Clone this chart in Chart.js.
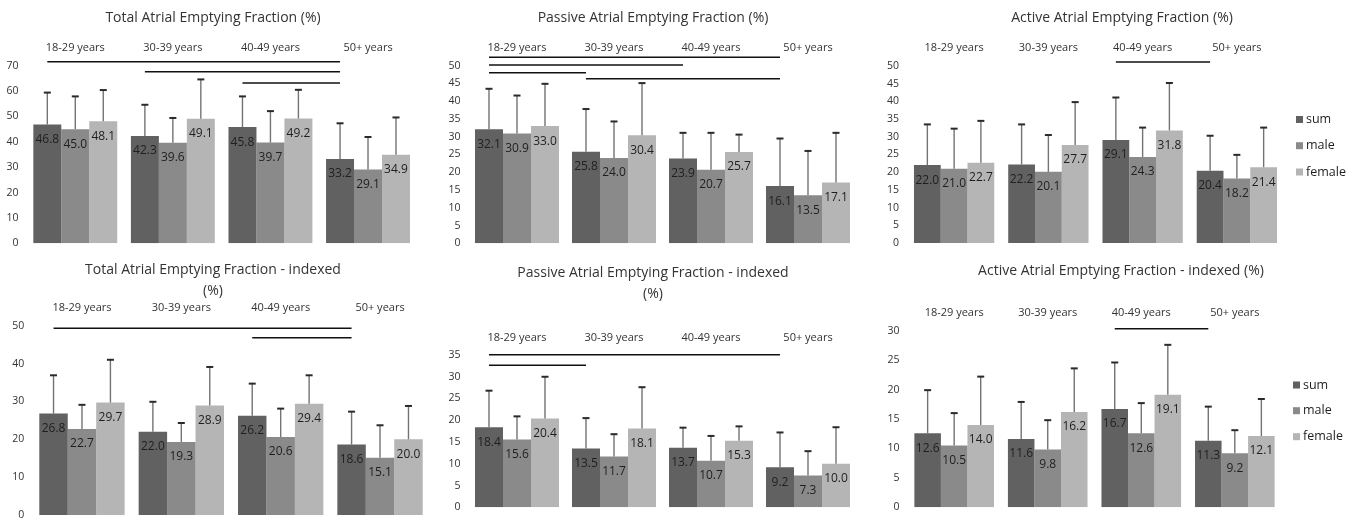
<!DOCTYPE html>
<html>
<head>
<meta charset="utf-8">
<title>Atrial Emptying Fraction by age group</title>
<script src="https://cdn.jsdelivr.net/npm/chart.js@4.4.1/dist/chart.umd.min.js"></script>
<style>
    html, body { margin: 0; padding: 0; background: #ffffff; overflow: hidden; }
    #wrap { position: relative; width: 1357px; height: 519px; overflow: hidden; }
    #wrap canvas { position: absolute; }
</style>
</head>
<body>
<div id="wrap"></div>
<script>
// Kategori dan seri
const ageGroups = ["18-29 years", "30-39 years", "40-49 years", "50+ years"];
const seriesNames = ["sum", "male", "female"];

// Total Atrial Emptying Fraction (%) - mean dan SD
const totalSum = [46.8, 42.3, 45.8, 33.2];
const totalMale = [45.0, 39.6, 39.7, 29.1];
const totalFemale = [48.1, 49.1, 49.2, 34.9];
const totalSumSd = [12.6, 12.3, 12.1, 14.1];
const totalMaleSd = [12.9, 9.8, 12.4, 12.8];
const totalFemaleSd = [12.3, 15.5, 11.3, 14.7];

// Passive Atrial Emptying Fraction (%)
const passiveSum = [32.1, 25.8, 23.9, 16.1];
const passiveMale = [30.9, 24.0, 20.7, 13.5];
const passiveFemale = [33.0, 30.4, 25.7, 17.1];
const passiveSumSd = [11.4, 12.0, 7.2, 13.4];
const passiveMaleSd = [10.7, 10.3, 10.4, 12.5];
const passiveFemaleSd = [11.9, 14.7, 4.9, 14.0];

// Active Atrial Emptying Fraction (%)
const activeSum = [22.0, 22.2, 29.1, 20.4];
const activeMale = [21.0, 20.1, 24.3, 18.2];
const activeFemale = [22.7, 27.7, 31.8, 21.4];
const activeSumSd = [11.5, 11.3, 12.0, 9.9];
const activeMaleSd = [11.3, 10.4, 8.3, 6.7];
const activeFemaleSd = [11.8, 12.1, 13.4, 11.2];

// Total Atrial Emptying Fraction - indexed (%)
const totalIdxSum = [26.8, 22.0, 26.2, 18.6];
const totalIdxMale = [22.7, 19.3, 20.6, 15.1];
const totalIdxFemale = [29.7, 28.9, 29.4, 20.0];
const totalIdxSumSd = [10.1, 7.9, 8.5, 8.7];
const totalIdxMaleSd = [6.4, 5.0, 7.5, 8.6];
const totalIdxFemaleSd = [11.3, 10.2, 7.5, 8.8];

// Passive Atrial Emptying Fraction - indexed (%)
const passiveIdxSum = [18.4, 13.5, 13.7, 9.2];
const passiveIdxMale = [15.6, 11.7, 10.7, 7.3];
const passiveIdxFemale = [20.4, 18.1, 15.3, 10.0];
const passiveIdxSumSd = [8.4, 7.0, 4.6, 8.0];
const passiveIdxMaleSd = [5.3, 5.1, 5.7, 5.6];
const passiveIdxFemaleSd = [9.6, 9.5, 3.3, 8.4];

// Active Atrial Emptying Fraction - indexed (%)
const activeIdxSum = [12.6, 11.6, 16.7, 11.3];
const activeIdxMale = [10.5, 9.8, 12.6, 9.2];
const activeIdxFemale = [14.0, 16.2, 19.1, 12.1];
const activeIdxSumSd = [7.3, 6.3, 7.9, 5.8];
const activeIdxMaleSd = [5.5, 5.0, 5.1, 3.9];
const activeIdxFemaleSd = [8.2, 7.4, 8.5, 6.3];

// Pasangan kelompok umur yang berbeda signifikan (index kategori)
const totalSig = [[0, 3], [1, 3], [2, 3]];
const passiveSig = [[0, 3], [0, 2], [0, 1], [1, 3]];
const activeSig = [[2, 3]];
const totalIdxSig = [[0, 3], [2, 3]];
const passiveIdxSig = [[0, 3], [0, 1]];
const activeIdxSig = [[2, 3]];

// Tick sumbu y
const totalTicks = { max: 70, step: 10 };
const passiveTicks = { max: 50, step: 5 };
const activeTicks = { max: 50, step: 5 };
const totalIdxTicks = { max: 50, step: 10 };
const passiveIdxTicks = { max: 35, step: 5 };
const activeIdxTicks = { max: 30, step: 5 };

const seriesColors = ["#616161", "#8a8a8a", "#b5b5b5"];
const textColor = "#333333";

Chart.defaults.font.family = "'Open Sans', sans-serif";
Chart.defaults.color = textColor;

// Layout tiap panel (koordinat halaman)
const panels = [
    {
        title: "Total Atrial Emptying Fraction (%)",
        values: [totalSum, totalMale, totalFemale], sds: [totalSumSd, totalMaleSd, totalFemaleSd],
        sig: totalSig, ticks: totalTicks,
        left: 0, top: 0, titleX: 213, titleY: 18, labelY: 48,
        plotL: 26.5, plotR: 416.8, plotT: 65.7, plotB: 243.3, catPct: 0.86,
        sigY: [61.7, 71.7, 83]
    },
    {
        title: "Passive Atrial Emptying Fraction (%)",
        values: [passiveSum, passiveMale, passiveFemale], sds: [passiveSumSd, passiveMaleSd, passiveFemaleSd],
        sig: passiveSig, ticks: passiveTicks,
        left: 440, top: 0, titleX: 653, titleY: 18, labelY: 48,
        plotL: 468.5, plotR: 856.5, plotT: 65.7, plotB: 243.3, catPct: 0.866,
        sigY: [57.3, 65, 72.7, 78.7]
    },
    {
        title: "Active Atrial Emptying Fraction (%)",
        values: [activeSum, activeMale, activeFemale], sds: [activeSumSd, activeMaleSd, activeFemaleSd],
        sig: activeSig, ticks: activeTicks,
        left: 870, top: 0, titleX: 1122, titleY: 18, labelY: 48,
        plotL: 907, plotR: 1284, plotT: 66, plotB: 243, catPct: 0.852,
        sigY: [62],
        legend: { x: 1296, y: [119.5, 145.7, 172] }
    },
    {
        title: ["Total Atrial Emptying Fraction - indexed", "(%)"],
        values: [totalIdxSum, totalIdxMale, totalIdxFemale], sds: [totalIdxSumSd, totalIdxMaleSd, totalIdxFemaleSd],
        sig: totalIdxSig, ticks: totalIdxTicks,
        left: -6, top: 259, titleX: 213, titleY: 269.7, labelY: 308.3,
        plotL: 32.3, plotR: 429.7, plotT: 325.7, plotB: 515, catPct: 0.859,
        sigY: [328.3, 337.7]
    },
    {
        title: ["Passive Atrial Emptying Fraction - indexed", "(%)"],
        values: [passiveIdxSum, passiveIdxMale, passiveIdxFemale], sds: [passiveIdxSumSd, passiveIdxMaleSd, passiveIdxFemaleSd],
        sig: passiveIdxSig, ticks: passiveIdxTicks,
        left: 440, top: 259, titleX: 653, titleY: 273, labelY: 338,
        plotL: 468.5, plotR: 856.5, plotT: 355, plotB: 507.3, catPct: 0.866,
        sigY: [354.7, 365.3]
    },
    {
        title: "Active Atrial Emptying Fraction - indexed (%)",
        values: [activeIdxSum, activeIdxMale, activeIdxFemale], sds: [activeIdxSumSd, activeIdxMaleSd, activeIdxFemaleSd],
        sig: activeIdxSig, ticks: activeIdxTicks,
        left: 870, top: 259, titleX: 1121, titleY: 271.3, labelY: 313,
        plotL: 907.4, plotR: 1281.6, plotT: 330.7, plotB: 507.3, catPct: 0.851,
        sigY: [328.7],
        legend: { x: 1293, y: [385, 410.7, 436.7] }
    }
];

// Plugin untuk error bar, label nilai, garis signifikansi dan legenda
const extrasPlugin = {
    id: "extras",
    afterDatasetsDraw(chart) {
        const opts = chart.options.plugins.extras;
        const ctx = chart.ctx;
        const yScale = chart.scales.y;

        ctx.save();
        chart.data.datasets.forEach((ds, i) => {
            chart.getDatasetMeta(i).data.forEach((bar, j) => {
                const top = yScale.getPixelForValue(ds.data[j] + ds.sd[j]);
                ctx.strokeStyle = "#737373";
                ctx.lineWidth = 1.4;
                ctx.beginPath();
                ctx.moveTo(bar.x, bar.y);
                ctx.lineTo(bar.x, top);
                ctx.stroke();

                ctx.strokeStyle = "#2a2a2a";
                ctx.lineWidth = 2;
                ctx.beginPath();
                ctx.moveTo(bar.x - 3.5, top);
                ctx.lineTo(bar.x + 3.5, top);
                ctx.stroke();

                ctx.fillStyle = "#1f1f1f";
                ctx.font = "12px 'Open Sans', sans-serif";
                ctx.textAlign = "center";
                ctx.textBaseline = "middle";
                ctx.fillText(ds.data[j].toFixed(1), bar.x, bar.y + 15);
            });
        });

        // garis signifikansi: dari bar "sum" kelompok satu ke kelompok lain
        const sumBars = chart.getDatasetMeta(0).data;
        ctx.strokeStyle = "#111111";
        ctx.lineWidth = 1.5;
        opts.sig.forEach((pair, k) => {
            const y = opts.sigY[k];
            ctx.beginPath();
            ctx.moveTo(sumBars[pair[0]].x, y);
            ctx.lineTo(sumBars[pair[1]].x, y);
            ctx.stroke();
        });

        if (opts.legend) {
            ctx.font = "12.5px 'Open Sans', sans-serif";
            ctx.textAlign = "left";
            ctx.textBaseline = "middle";
            chart.data.datasets.forEach((ds, i) => {
                const y = opts.legend.y[i];
                ctx.fillStyle = ds.backgroundColor;
                ctx.fillRect(opts.legend.x, y - 3.5, 7, 7);
                ctx.fillStyle = "#1f1f1f";
                ctx.fillText(ds.label, opts.legend.x + 10, y);
            });
        }
        ctx.restore();
    }
};

const wrap = document.getElementById("wrap");

panels.forEach((p) => {
    const width = Math.round(2 * (p.titleX - p.left));
    // ruang bawah cukup besar supaya padding label sumbu y tidak menggeser area plot
    const height = Math.round(p.plotB - p.top + 17);
    const lines = Array.isArray(p.title) ? p.title.length : 1;
    const titlePadTop = p.titleY - p.top - 10.5;
    const titleBottom = titlePadTop + lines * 21;

    const canvas = document.createElement("canvas");
    canvas.width = width;
    canvas.height = height;
    canvas.style.left = p.left + "px";
    canvas.style.top = p.top + "px";
    wrap.appendChild(canvas);

    const sigY = p.sigY.map(y => y - p.top);
    const legend = p.legend ? { x: p.legend.x - p.left, y: p.legend.y.map(y => y - p.top) } : null;

    new Chart(canvas, {
        type: "bar",
        data: {
            labels: ageGroups,
            datasets: seriesNames.map((name, i) => ({
                label: name,
                data: p.values[i],
                sd: p.sds[i],
                backgroundColor: seriesColors[i],
                borderWidth: 0,
                categoryPercentage: p.catPct,
                barPercentage: 1.0
            }))
        },
        options: {
            responsive: false,
            animation: false,
            layout: { padding: { top: 0, left: 0, right: 0, bottom: p.top + height - p.plotB } },
            scales: {
                x: {
                    position: "top",
                    grid: { display: false, drawTicks: false },
                    border: { display: false },
                    ticks: {
                        font: { size: 11 },
                        color: textColor,
                        padding: p.plotT - p.labelY - 6.6,
                        maxRotation: 0,
                        autoSkip: false
                    },
                    afterFit: (axis) => { axis.height = p.plotT - p.top - titleBottom; }
                },
                y: {
                    position: "left",
                    min: 0,
                    max: p.ticks.max,
                    grid: { display: false, drawTicks: false },
                    border: { display: false },
                    ticks: { stepSize: p.ticks.step, font: { size: 10.5 }, color: textColor, padding: 8 },
                    afterFit: (axis) => { axis.width = p.plotL - p.left; }
                },
                yR: {
                    position: "right",
                    grid: { display: false, drawTicks: false },
                    border: { display: false },
                    ticks: { display: false },
                    afterFit: (axis) => { axis.width = width - (p.plotR - p.left); }
                }
            },
            plugins: {
                legend: { display: false },
                tooltip: { enabled: false },
                title: {
                    display: true,
                    text: p.title,
                    color: textColor,
                    font: { size: 14, weight: "normal", lineHeight: 1.5 },
                    padding: { top: titlePadTop, bottom: 0 }
                },
                extras: { sig: p.sig, sigY: sigY, legend: legend }
            }
        },
        plugins: [extrasPlugin]
    });
});
</script>
</body>
</html>
